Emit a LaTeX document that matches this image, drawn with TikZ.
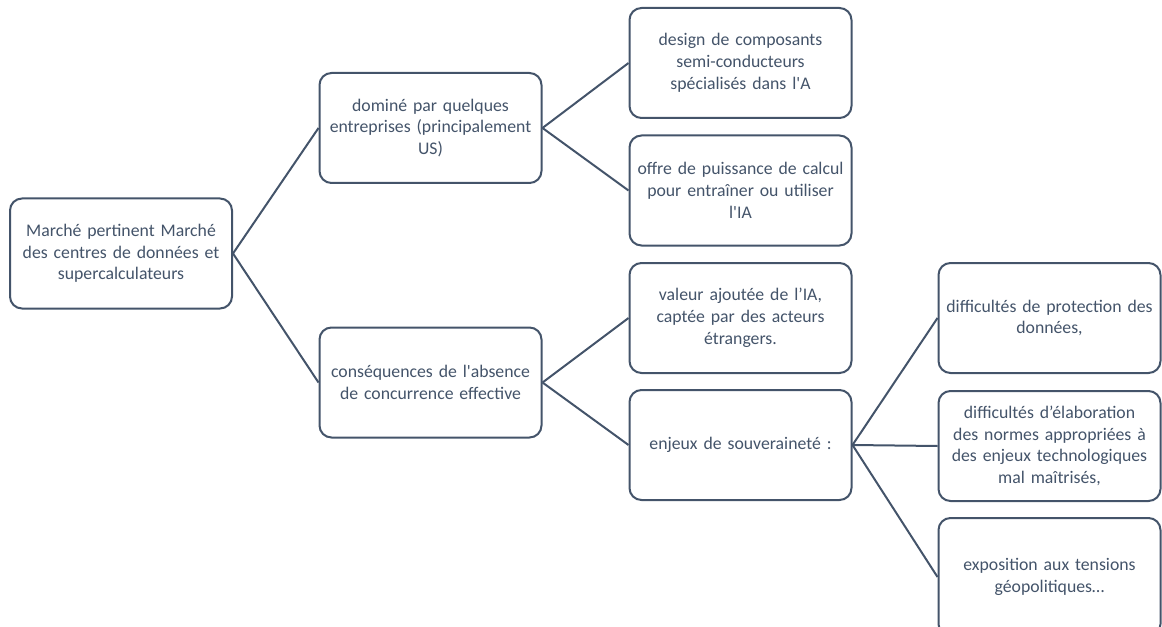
\documentclass[tikz,border=0pt]{standalone}
\usepackage{fontspec}
\setmainfont{Carlito}
\usetikzlibrary{positioning}
\definecolor{slate}{HTML}{44546A}
\hyphenpenalty=10000
\exhyphenpenalty=10000
\tikzset{
  box/.style={draw=slate, text=slate, line width=1.5pt, rounded corners=9pt,
    minimum width=166.5pt, minimum height=82.5pt, text width=163pt, inner xsep=1.5pt,
    align=center, font=\fontsize{13.3}{16.3}\selectfont, fill=white},
  link/.style={draw=slate, line width=1.5pt}
}
\begin{document}
\begin{tikzpicture}[x=0.75pt,y=-0.75pt]
\useasboundingbox (0,0) rectangle (1162,627);
\node[box] (root) at (121,253.5) {Marché pertinent Marché\\ des centres de données et\\ supercalculateurs};
\node[box] (domine) at (430.5,128) {dominé par quelques\\ entreprises (principalement\\ US)};
\node[box] (conseq) at (430.5,382.5) {conséquences de l\textquotesingle absence\\ de concurrence effective};
\node[box] (design) at (740.5,63) {design de composants\\ semi-conducteurs\\ spécialisés dans l\textquotesingle A};
\node[box] (offre) at (740.5,190.5) {offre de puissance de calcul\\ pour entraîner ou utiliser\\ l\textquotesingle IA};
\node[box] (valeur) at (740.5,318) {valeur ajoutée de l’IA,\\ captée par des acteurs\\ étrangers.};
\node[box] (enjeux) at (740.5,445) {enjeux de souveraineté :};
\node[box] (protect) at (1049.5,318) {difficultés de protection des\\ données,};
\node[box] (normes) at (1049.5,446) {difficultés d’élaboration\\ des normes appropriées à\\ des enjeux technologiques\\ mal maîtrisés,};
\node[box, minimum height=88.5pt] (tension) at (1049.5,577) {exposition aux tensions\\ géopolitiques…};

\foreach \a/\b in {root/domine,root/conseq,domine/design,domine/offre,conseq/valeur,conseq/enjeux,enjeux/protect,enjeux/normes,enjeux/tension}
  \draw[link] (\a.east) -- (\b.west);
\end{tikzpicture}
\end{document}
